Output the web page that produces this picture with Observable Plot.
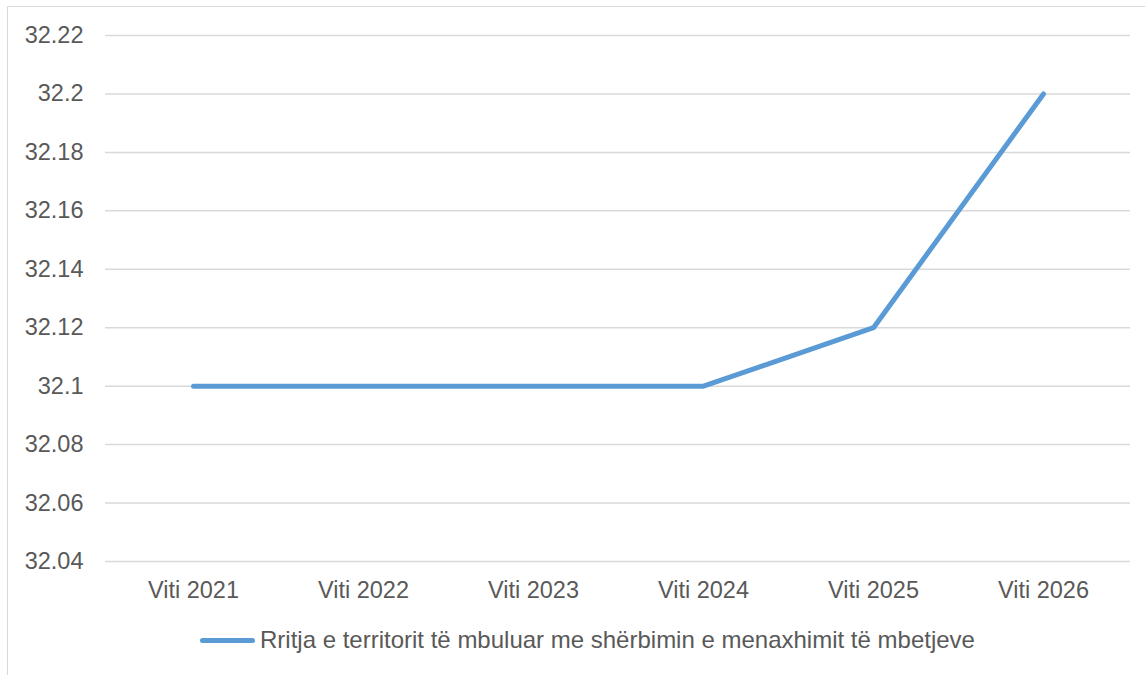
<!DOCTYPE html>
<html>
<head>
<meta charset="utf-8">
<script src="https://cdn.jsdelivr.net/npm/d3@7"></script>
<script src="https://cdn.jsdelivr.net/npm/@observablehq/plot@0.6"></script>
<style>
  html, body { margin: 0; padding: 0; background: #fff; width: 1145px; height: 675px; overflow: hidden; }
  body { position: relative; font-family: "Liberation Sans", Arial, sans-serif; }
  #frame { position: absolute; left: 7px; top: 6px; width: 1200px; height: 720px; border: 1.5px solid #d9d9d9; box-sizing: border-box; }
  #chart { position: absolute; left: 0; top: 0; }
  #legend { position: absolute; left: 200px; top: 626px; display: flex; align-items: center; font-size: 24px; color: #595959; white-space: nowrap; }
  #legend .sw { width: 55px; height: 5px; border-radius: 3px; background: #5b9bd5; margin-right: 5px; }
</style>
</head>
<body>
<div id="frame"></div>
<div id="chart"></div>
<div id="legend"><span class="sw"></span><span id="legendText"></span></div>
<script>
const categories = ["Viti 2021", "Viti 2022", "Viti 2023", "Viti 2024", "Viti 2025", "Viti 2026"];
const values = [32.1, 32.1, 32.1, 32.1, 32.12, 32.2];
const yTicks = [32.04, 32.06, 32.08, 32.1, 32.12, 32.14, 32.16, 32.18, 32.2, 32.22];
const seriesName = "Rritja e territorit të mbuluar me shërbimin e menaxhimit të mbetjeve";

const data = categories.map((c, i) => ({category: c, value: values[i]}));

const chart = Plot.plot({
  width: 1145,
  height: 620,
  marginLeft: 105,
  marginRight: 15,
  marginTop: 35,
  marginBottom: 59,
  style: { fontFamily: "'Liberation Sans', Arial, sans-serif", fontSize: "23.5px", color: "#595959", background: "transparent", overflow: "visible" },
  x: { type: "point", domain: categories, padding: 0.5, label: null },
  y: { domain: [32.04, 32.22], label: null },
  marks: [
    Plot.gridY(yTicks, { stroke: "#d9d9d9", strokeOpacity: 1, strokeWidth: 1.5 }),
    Plot.axisY(yTicks, { tickSize: 0, tickPadding: 22, label: null, fill: "#595959", tickFormat: d => String(+d.toFixed(2)) }),
    Plot.axisX({ tickSize: 0, tickPadding: 20, label: null, fill: "#595959" }),
    Plot.line(data, { x: "category", y: "value", stroke: "#5b9bd5", strokeWidth: 5, strokeLinecap: "round", strokeLinejoin: "round" })
  ]
});
document.getElementById("chart").appendChild(chart);
document.getElementById("legendText").textContent = seriesName;
</script>
</body>
</html>
